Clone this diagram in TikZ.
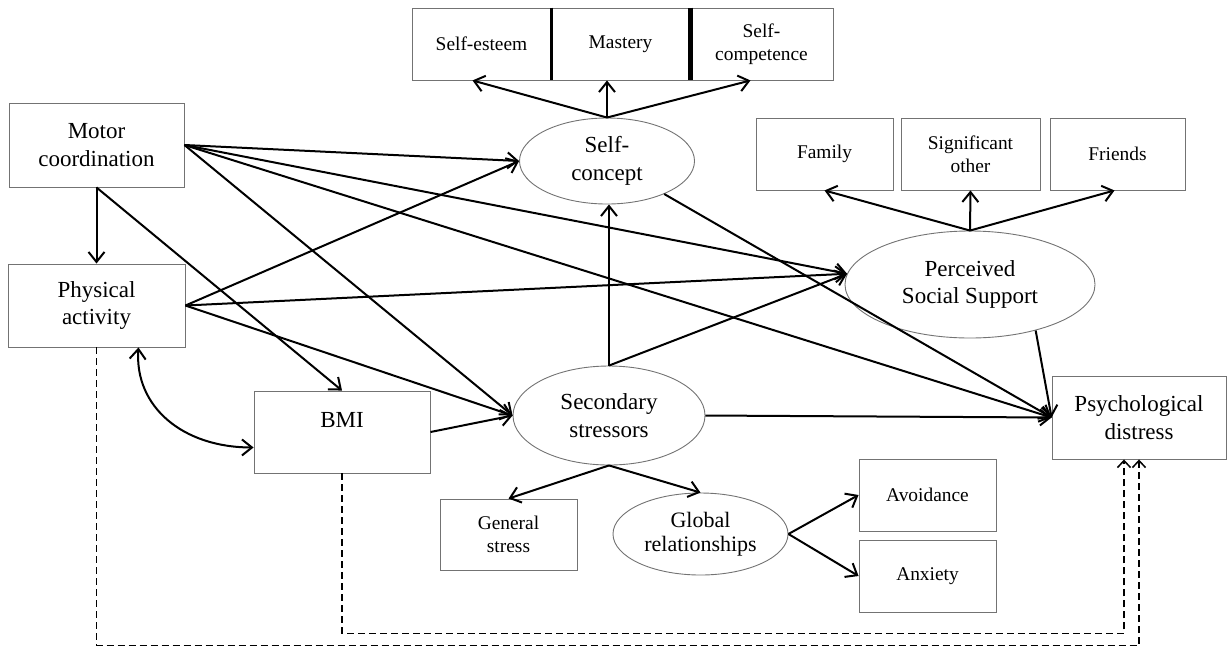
\documentclass[tikz,border=0pt]{standalone}
\usepackage{fontspec}
\setmainfont{Liberation Serif}
\usetikzlibrary{shapes.geometric,arrows.meta,calc}
\begin{document}
\begin{tikzpicture}[x=1pt,y=-1pt,
  box/.style={draw=black!55,line width=0.9pt,rectangle,inner sep=0pt,align=center},
  oval/.style={draw=black!55,line width=0.9pt,ellipse,inner sep=0pt,align=center},
  big/.style={font=\fontsize{23}{27.5}\selectfont},
  mid/.style={font=\fontsize{22}{24.5}\selectfont},
  small/.style={font=\fontsize{19.4}{23}\selectfont},
  arr/.style={-{Straight Barb[length=10pt,width=16pt]},line width=2pt},
  darr/.style={{Straight Barb[length=10pt,width=16pt]}-{Straight Barb[length=10pt,width=16pt]},line width=2pt},
  dsh/.style={-{Straight Barb[length=7pt,width=13pt]},line width=1.5pt,dash pattern=on 7pt off 4pt}]
\useasboundingbox (0,0) rectangle (1228,649);

% top indicator boxes
\node[box,small,minimum width=139pt,minimum height=72pt] (se) at (481.5,44) {Self-esteem};
\node[box,small,minimum width=139pt,minimum height=72pt] (ma) at (620.5,44) {Mastery};
\node[box,small,minimum width=143pt,minimum height=72pt] (scp) at (761.5,44) {Self-\\competence};
\draw[line width=3pt] (se.north east) -- (se.south east);
\draw[line width=5pt] (ma.north east) -- (ma.south east);

% main nodes
\node[box,big,minimum width=175pt,minimum height=84pt] (mc) at (96.5,145) {Motor\\coordination};
\node[box,big,minimum width=177pt,minimum height=83pt] (pa) at (96.5,305.5) {Physical\\activity};
\node[box,minimum width=176pt,minimum height=82pt,label={[big,yshift=12pt]center:BMI}] (bmi) at (342,432) {};
\node[oval,big,minimum width=175pt,minimum height=86pt] (sc) at (607,161) {Self-\\concept};
\node[oval,big,minimum width=192pt,minimum height=99pt] (ss) at (609,415.5) {Secondary\\stressors};
\node[oval,big,minimum width=250pt,minimum height=107pt] (pss) at (970,284.5) {Perceived\\Social Support};
\node[box,big,minimum width=174pt,minimum height=83pt] (pd) at (1139,417.5) {Psychological\\distress};

% social support indicators
\node[box,small,minimum width=137pt,minimum height=72pt] (fam) at (824.5,154) {Family};
\node[box,small,minimum width=139pt,minimum height=72pt] (so) at (970.5,154) {Significant\\other};
\node[box,small,minimum width=135pt,minimum height=72pt] (fr) at (1117.5,154) {Friends};

% stressor indicators
\node[box,small,minimum width=137pt,minimum height=71pt] (gs) at (508.5,534.5) {General\\stress};
\node[oval,mid,minimum width=175pt,minimum height=82pt] (gr) at (700.5,534) {Global\\relationships};
\node[box,small,minimum width=137pt,minimum height=72pt] (av) at (927.5,495) {Avoidance};
\node[box,small,minimum width=137pt,minimum height=72pt] (ax) at (927.5,576) {Anxiety};

% self-concept indicators
\draw[arr] (sc.north) -- ($(se.south)+(-9,0)$);
\draw[arr] (sc.north) -- (sc.north |- ma.south);
\draw[arr] (sc.north) -- ($(scp.south)+(-11,0)$);

% social support indicators
\draw[arr] (pss.north) -- (fam.south);
\draw[arr] (pss.north) -- (so.south);
\draw[arr] (pss.north) -- ($(fr.south)+(-3,0)$);

% stressor indicators
\draw[arr] (ss.south) -- (gs.north);
\draw[arr] (ss.south) -- (gr.north);
\draw[arr] (gr.east) -- (av.west);
\draw[arr] (gr.east) -- (ax.west);

% structural paths
\draw[arr] (mc.south) -- (pa.north);
\draw[arr] (mc.south) -- (bmi.north);
\draw[arr] (mc.east) -- (sc.west);
\draw[arr] (mc.east) -- (ss.west);
\draw[arr] (mc.east) -- (pss.175);
\draw[arr] (mc.east) -- (pd.west);
\draw[arr] (pa.east) -- (sc.west);
\draw[arr] (pa.east) -- (pss.175);
\draw[arr] (pa.east) -- (ss.west);
\draw[arr] (bmi.east) -- (ss.west);
\draw[arr] (ss.north) -- (ss.north |- sc.south);
\draw[arr] (ss.north) -- (pss.175);
\draw[arr] (ss.east) -- (pd.west);
\draw[arr] (sc) -- (pd.west);
\draw[arr] (pss.-35) -- (pd.west);

% covariance
\draw[darr] ($(pa.south east)+(-47,0)$) .. controls +(-4,60) and +(-70,0) .. ($(bmi.south west)+(0,-26)$);

% dashed paths
\draw[dsh] (pa.south) |- ($(pd.south)+(0,186)$) -- (pd.south);
\draw[dsh] (bmi.south) |- ($(pd.south)+(-15,174)$) -- ($(pd.south)+(-15,0)$);
\end{tikzpicture}
\end{document}
